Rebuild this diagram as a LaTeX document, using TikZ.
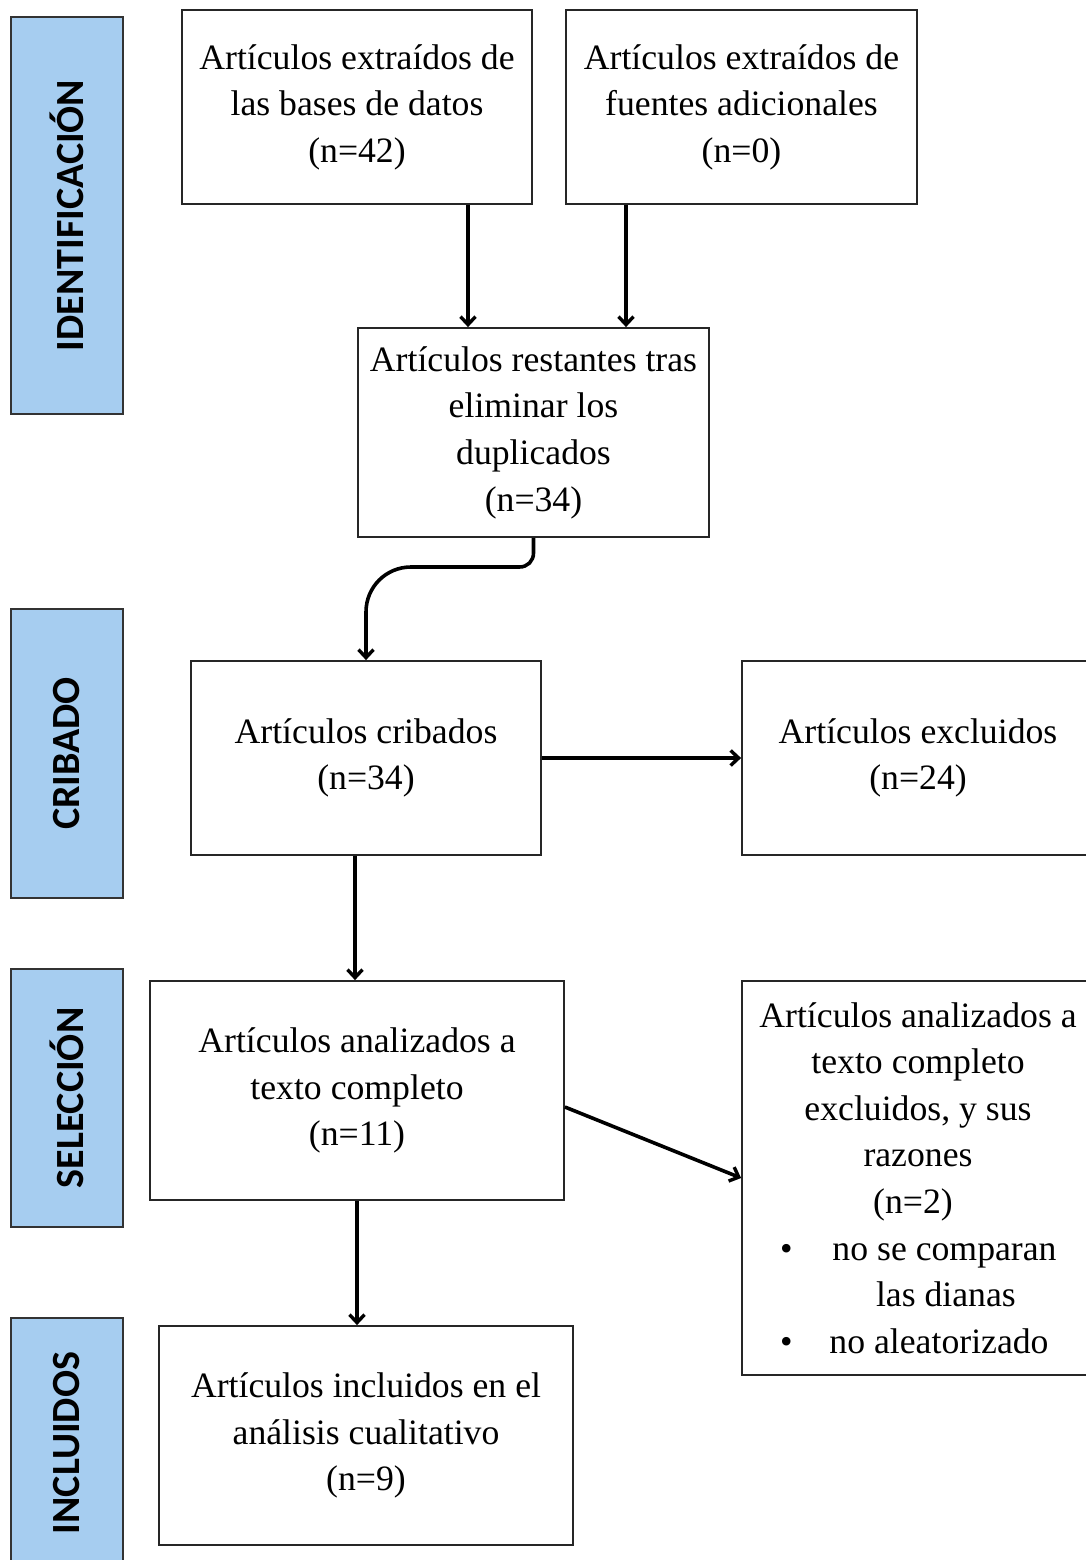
\documentclass[tikz,border=0pt]{standalone}
\usepackage{fontspec}
\setmainfont{Liberation Serif}
\newfontfamily\barfont{Carlito}
\usetikzlibrary{arrows.meta}
\definecolor{barblue}{RGB}{166,205,240}
\begin{document}
\begin{tikzpicture}[x=1pt,y=-1pt,
  box/.style={draw=black!85, line width=1.8pt, inner sep=0pt, align=center,
    font=\fontsize{35.7}{46.6}\selectfont},
  bar/.style={draw=black!80, line width=1.2pt, fill=barblue, inner sep=0pt, rotate=90,
    font=\barfont\bfseries\fontsize{40}{48}\selectfont},
  arr/.style={line width=3.6pt, -{Straight Barb[length=8pt,width=15pt,line width=3.4pt]}}]
\useasboundingbox (0,0) rectangle (1086,1560);
\clip (0,0) rectangle (1086,1560);
\fill[white] (0,0) rectangle (1086,1560);

% side bars
\node[bar, minimum width=397pt, minimum height=112pt] (bI) at (67,215.5) {IDENTIFICACIÓN};
\node[bar, minimum width=289pt, minimum height=112pt] (bC) at (67,753.5) {CRIBADO};
\node[bar, minimum width=258pt, minimum height=112pt] (bS) at (67,1098) {SELECCIÓN};
\node[bar, minimum width=250pt, minimum height=112pt] (bN) at (67,1443) {INCLUIDOS};

% boxes
\node[box, minimum width=350pt, minimum height=194pt] (b1) at (357,107)
  {Artículos extraídos de\\las bases de datos\\(n=42)};
\node[box, minimum width=351pt, minimum height=194pt] (b2) at (741.5,107)
  {Artículos extraídos de\\fuentes adicionales\\(n=0)};
\node[box, minimum width=351pt, minimum height=209pt] (b3) at (533.5,432.5)
  {Artículos restantes tras\\eliminar los\\duplicados\\(n=34)};
\node[box, minimum width=350pt, minimum height=194pt] (b4) at (366,758)
  {Artículos cribados\\(n=34)};
\node[box, minimum width=352pt, minimum height=194pt] (b5) at (918,758)
  {Artículos excluidos\\(n=24)};
\node[box, minimum width=414pt, minimum height=219pt] (b6) at (357,1090.5)
  {Artículos analizados a\\texto completo\\(n=11)};
\node[box, minimum width=352pt, minimum height=394pt] (b7) at (918,1178)
  {Artículos analizados a\\texto completo\\excluidos, y sus\\razones\\\hspace*{-10pt}(n=2)\\
   \makebox[340pt][l]{\hspace{32pt}\textbullet\hspace{40pt}no se comparan}\\
   \makebox[340pt][l]{\hspace{128pt}las dianas}\\
   \makebox[340pt][l]{\hspace{32pt}\textbullet\hspace{37pt}no aleatorizado}};
\node[box, minimum width=414pt, minimum height=219pt] (b8) at (366,1435.5)
  {Artículos incluidos en el\\análisis cualitativo\\(n=9)};

% connectors
\draw[arr] ([xshift=111pt]b1.south) -- ([xshift=-65.5pt]b3.north);
\draw[arr] ([xshift=-115.5pt]b2.south) -- ([xshift=92.5pt]b3.north);
\draw[arr] (b3.south) -- (533.5,553) .. controls (533.5,561) and (527.5,567) .. (519.5,567)
  -- (411,567) .. controls (386,567) and (366,587) .. (366,612) -- (b4.north);
\draw[arr] (b4.east) -- (b5.west);
\draw[arr] ([xshift=-11pt]b4.south) -- ([xshift=-2pt]b6.north);
\draw[arr] ([yshift=-16.5pt]b6.east) -- (b7.west);
\draw[arr] (b6.south) -- ([xshift=-9pt]b8.north);
\end{tikzpicture}
\end{document}
